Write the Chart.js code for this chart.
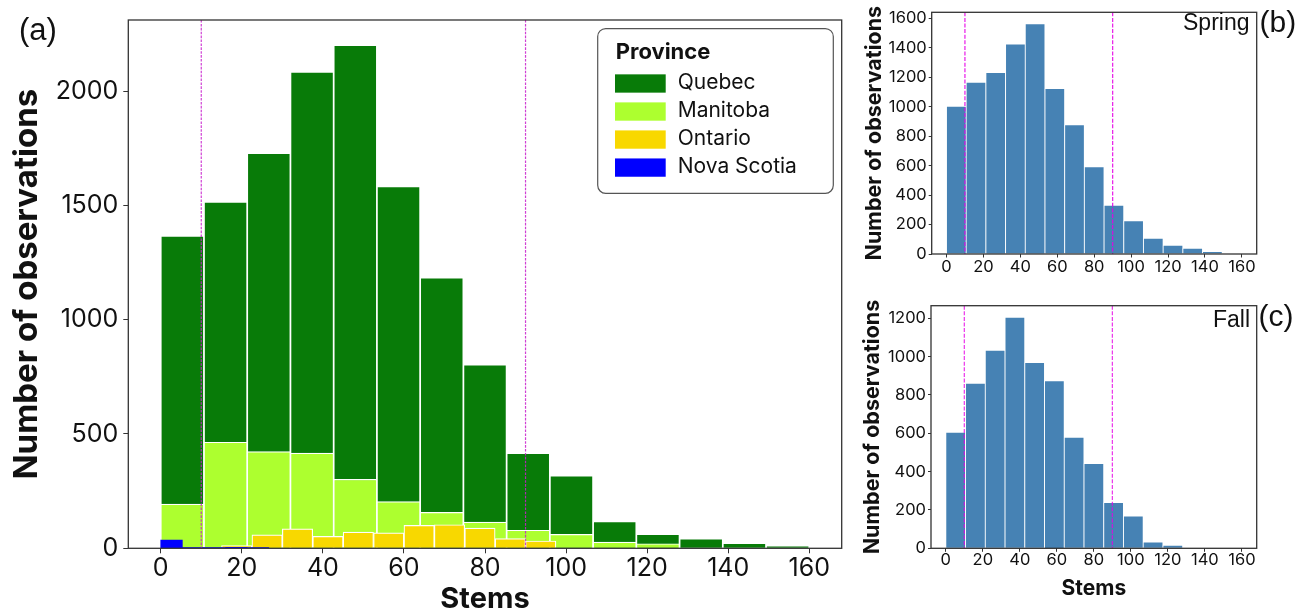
<!DOCTYPE html>
<html>
<head>
<meta charset="utf-8">
<script src="https://cdn.jsdelivr.net/npm/chart.js@4.4.1/dist/chart.umd.min.js"></script>
<style>
  html, body { margin: 0; padding: 0; background: #ffffff; width: 1302px; height: 612px; overflow: hidden; }
  canvas { position: absolute; }
  #ca { left: 0; top: 0; }
  #cb { left: 850px; top: 0; }
  #cc { left: 850px; top: 290px; }
</style>
</head>
<body>
<canvas id="ca" width="850" height="612"></canvas>
<canvas id="cb" width="452" height="290"></canvas>
<canvas id="cc" width="452" height="322"></canvas>
<script>
// ---------------- DATA ----------------
const stemBinEdges = [0, 10.667, 21.333, 32, 42.667, 53.333, 64, 74.667, 85.333, 96, 106.667, 117.333, 128, 138.667, 149.333, 160];
const ontarioBinEdges = [15, 22.5, 30, 37.5, 45, 52.5, 60, 67.5, 75, 82.5, 90, 97.5];
const novaScotiaBinEdges = [0, 5.333, 10.667, 16, 21.333, 26.667];

const quebecCounts     = [1367, 1515, 1729, 2084, 2201, 1583, 1184, 803, 416, 318, 118, 62, 42, 23, 11];
const manitobaCounts   = [193, 464, 423, 416, 302, 204, 157, 115, 79, 61, 27, 20, 0, 0, 0];
const ontarioCounts    = [12, 59, 85, 52, 71, 68, 100, 103, 88, 42, 32];
const novaScotiaCounts = [36, 3, 3, 4, 3];

const springCounts = [1002, 1165, 1232, 1424, 1562, 1122, 876, 591, 330, 226, 106, 59, 38, 16, 0];
const fallCounts   = [605, 861, 1034, 1205, 969, 874, 579, 443, 239, 169, 33, 16, 0, 0, 0];

const provinces = ['Quebec', 'Manitoba', 'Ontario', 'Nova Scotia'];
const thresholds = [10, 90];

const stemTicks = [0, 20, 40, 60, 80, 100, 120, 140, 160];
const countTicksA = [0, 500, 1000, 1500, 2000];
const countTicksB = [0, 200, 400, 600, 800, 1000, 1200, 1400, 1600];
const countTicksC = [0, 200, 400, 600, 800, 1000, 1200];

const stemRange = [-8, 168];
const countMaxA = 2311, countMaxB = 1640, countMaxC = 1266;

// ---------------- HELPERS ----------------
const FONT = 'Inter, "Noto Sans", sans-serif';
const LFONT = '"Liberation Sans", Arial, sans-serif';

function toBins(edges, counts) {
  return counts.map((v, i) => ({ x: (edges[i] + edges[i + 1]) / 2, y: v }));
}
function setTicks(list) {
  return axis => { axis.ticks = list.map(v => ({ value: v })); };
}
function hiddenX() {
  return { type: 'linear', display: false, min: stemRange[0], max: stemRange[1], offset: false,
           grid: { offset: false }, afterBuildTicks: setTicks([0]) };
}
function visibleX(o) {
  return {
    type: 'linear', position: 'bottom', min: stemRange[0], max: stemRange[1], offset: false,
    border: { display: false },
    grid: { offset: false, drawOnChartArea: false, drawTicks: true, tickLength: o.tl, tickColor: '#333', tickWidth: 1 },
    ticks: { autoSkip: false, maxRotation: 0, padding: o.pad, color: '#111',
             font: { family: FONT, size: o.size, lineHeight: 1.2 }, callback: v => String(v) },
    afterBuildTicks: setTicks(stemTicks),
    title: o.title ? { display: true, text: 'Stems', color: '#111',
             font: { family: FONT, size: o.titleSize, weight: 'bold', lineHeight: o.titleLH },
             padding: { top: 0, bottom: o.titlePad } } : { display: false },
    afterFit: s => { s.height = o.height; }
  };
}
function countY(o) {
  return {
    type: 'linear', min: 0, max: o.max, border: { display: false },
    grid: { drawOnChartArea: false, drawTicks: true, tickLength: o.tl, tickColor: '#333', tickWidth: 1 },
    ticks: { padding: o.pad, color: '#111', font: { family: FONT, size: o.size }, callback: v => String(v) },
    afterBuildTicks: setTicks(o.ticks),
    title: { display: true, text: 'Number of observations', color: '#111',
             font: { family: FONT, size: o.titleSize, weight: 'bold', lineHeight: 1.2 },
             padding: { top: o.titlePad, bottom: 0 } },
    afterFit: s => { s.width = o.width; }
  };
}

const decor = {
  id: 'decor',
  afterDatasetsDraw(chart, args, opts) {
    const { ctx, chartArea: a } = chart;
    const xs = chart.scales.x;
    ctx.save();
    ctx.beginPath();
    ctx.strokeStyle = opts.lineColor;
    ctx.lineWidth = opts.lineWidth;
    ctx.setLineDash(opts.dash);
    thresholds.forEach(v => {
      const px = xs.getPixelForValue(v);
      ctx.moveTo(px, a.top);
      ctx.lineTo(px, a.bottom);
    });
    ctx.stroke();
    ctx.setLineDash([]);
    ctx.strokeStyle = '#333';
    ctx.lineWidth = opts.frameWidth;
    ctx.strokeRect(a.left, a.top, a.right - a.left, a.bottom - a.top);
    ctx.restore();
  },
  afterDraw(chart, args, opts) {
    const { ctx, chartArea: a } = chart;
    ctx.save();
    ctx.fillStyle = '#111';
    (opts.texts || []).forEach(t => {
      ctx.font = t.size + 'px ' + LFONT;
      ctx.textAlign = t.align;
      ctx.textBaseline = 'alphabetic';
      ctx.fillText(t.text, t.x, t.y);
    });
    const L = opts.legend;
    if (L) {
      const bx = a.right - L.marginRight - L.width, by = a.top + L.marginTop;
      ctx.beginPath();
      ctx.roundRect(bx, by, L.width, L.height, 8);
      ctx.fillStyle = 'rgba(255,255,255,0.85)';
      ctx.fill();
      ctx.strokeStyle = '#555';
      ctx.lineWidth = 1.2;
      ctx.stroke();
      ctx.fillStyle = '#111';
      ctx.textAlign = 'left';
      ctx.textBaseline = 'alphabetic';
      ctx.font = 'bold 22px ' + FONT;
      ctx.fillText('Province', bx + 18, by + 30.7);
      ctx.font = '21px ' + FONT;
      chart.data.datasets.forEach((ds, i) => {
        const cy = by + 54.9 + i * 28.03;
        ctx.fillStyle = ds.backgroundColor;
        ctx.fillRect(bx + 17.3, cy - 9.15, 50.7, 18.3);
        ctx.fillStyle = '#111';
        ctx.fillText(ds.label, bx + 80, cy + 5.6);
      });
    }
    ctx.restore();
  }
};

const barStyle = { borderColor: '#ffffff', borderWidth: 1.2, barPercentage: 1, categoryPercentage: 1, grouped: false };
const provinceColors = ['#087b08', '#adff2f', '#f8d800', '#0000ff'];

// ---------------- PANEL (a) ----------------
new Chart(document.getElementById('ca'), {
  type: 'bar',
  data: {
    datasets: [
      { label: provinces[0], data: toBins(stemBinEdges, quebecCounts), backgroundColor: provinceColors[0], xAxisID: 'x', order: 4, ...barStyle },
      { label: provinces[1], data: toBins(stemBinEdges, manitobaCounts), backgroundColor: provinceColors[1], xAxisID: 'xM', order: 3, ...barStyle },
      { label: provinces[2], data: toBins(ontarioBinEdges, ontarioCounts), backgroundColor: provinceColors[2], xAxisID: 'xO', order: 2, ...barStyle },
      { label: provinces[3], data: toBins(novaScotiaBinEdges, novaScotiaCounts), backgroundColor: provinceColors[3], xAxisID: 'xN', order: 1, ...barStyle, borderWidth: 0 }
    ]
  },
  options: {
    responsive: false, animation: false, events: [],
    layout: { padding: { top: 15.7, right: 8.3, bottom: 0, left: 0 } },
    plugins: {
      legend: { display: false }, tooltip: { enabled: false },
      decor: {
        lineColor: 'rgba(200,30,205,0.85)', lineWidth: 1.2, dash: [2.6, 1.3], frameWidth: 1.3,
        texts: [{ text: '(a)', x: 19, y: 40, size: 31, align: 'left' }],
        legend: { marginRight: 8.4, marginTop: 8.6, width: 235.6, height: 164.7 }
      }
    },
    scales: {
      x: visibleX({ tl: 5, pad: 0, size: 25, title: true, titleSize: 29, titleLH: 0.9, titlePad: 0, height: 63.7 }),
      xM: hiddenX(), xO: hiddenX(), xN: hiddenX(),
      y: countY({ max: countMaxA, ticks: countTicksA, tl: 5, pad: 5, size: 25, titleSize: 33, titlePad: 7.5, width: 128.3 })
    }
  },
  plugins: [decor]
});

// ---------------- PANEL (b) ----------------
const seasonBar = { backgroundColor: '#4682b4', borderColor: 'rgba(255,255,255,0.85)', borderWidth: 0.8, barPercentage: 1, categoryPercentage: 1 };

new Chart(document.getElementById('cb'), {
  type: 'bar',
  data: { datasets: [{ label: 'Spring', data: toBins(stemBinEdges, springCounts), xAxisID: 'x', ...seasonBar }] },
  options: {
    responsive: false, animation: false, events: [],
    layout: { padding: { top: 12.3, right: 45.3, bottom: 0, left: 0 } },
    plugins: {
      legend: { display: false }, tooltip: { enabled: false },
      decor: {
        lineColor: 'rgba(230,0,230,0.9)', lineWidth: 1.2, dash: [4, 1.6], frameWidth: 1.3,
        texts: [
          { text: 'Spring', x: 399.5, y: 30, size: 23, align: 'right' },
          { text: '(b)', x: 409.5, y: 32, size: 30, align: 'left' }
        ]
      }
    },
    scales: {
      x: visibleX({ tl: 3.5, pad: 0, size: 16.5, title: false, height: 36 }),
      y: countY({ max: countMaxB, ticks: countTicksB, tl: 3, pad: 2, size: 16.5, titleSize: 21.5, titlePad: 11.5, width: 81.7 })
    }
  },
  plugins: [decor]
});

// ---------------- PANEL (c) ----------------
new Chart(document.getElementById('cc'), {
  type: 'bar',
  data: { datasets: [{ label: 'Fall', data: toBins(stemBinEdges, fallCounts), xAxisID: 'x', ...seasonBar }] },
  options: {
    responsive: false, animation: false, events: [],
    layout: { padding: { top: 15.7, right: 45.3, bottom: 0, left: 0 } },
    plugins: {
      legend: { display: false }, tooltip: { enabled: false },
      decor: {
        lineColor: 'rgba(230,0,230,0.8)', lineWidth: 1.2, dash: [4, 1.6], frameWidth: 1.3,
        texts: [
          { text: 'Fall', x: 400, y: 37.3, size: 23, align: 'right' },
          { text: '(c)', x: 408.5, y: 36.3, size: 30, align: 'left' }
        ]
      }
    },
    scales: {
      x: visibleX({ tl: 3.5, pad: -2, size: 16.5, title: true, titleSize: 21, titleLH: 1.2, titlePad: 10.3, height: 63.7 }),
      y: countY({ max: countMaxC, ticks: countTicksC, tl: 3, pad: 2, size: 16.5, titleSize: 21.5, titlePad: 10, width: 81 })
    }
  },
  plugins: [decor]
});
</script>
</body>
</html>
